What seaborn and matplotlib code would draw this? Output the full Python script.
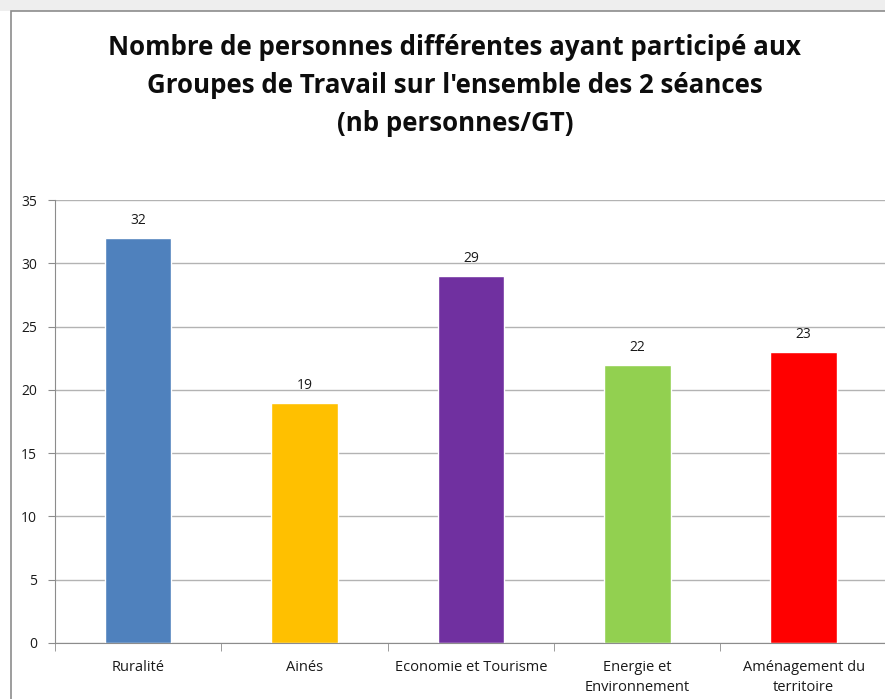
import matplotlib
matplotlib.use("Agg")
import matplotlib.pyplot as plt
import seaborn as sns
import pandas as pd
from matplotlib.patches import Rectangle

# data
groupes = ["Ruralité", "Ainés", "Economie et Tourisme",
           "Energie et\nEnvironnement", "Aménagement du\nterritoire"]
personnes = [32, 19, 29, 22, 23]
couleurs = ["#4f81bd", "#ffc000", "#7030a0", "#92d050", "#ff0000"]
y_ticks = [0, 5, 10, 15, 20, 25, 30, 35]

titre = ("Nombre de personnes différentes ayant participé aux\n"
         "Groupes de Travail sur l'ensemble des 2 séances\n"
         "(nb personnes/GT)")


def main():
    sns.set_style("white")
    plt.rcParams["font.family"] = ["Open Sans", "DejaVu Sans"]

    df = pd.DataFrame({"groupe": groupes, "nb": personnes})

    fig = plt.figure(figsize=(8.85, 6.99), dpi=100)
    fig.patch.set_facecolor("white")

    # light grey strip above the chart frame, then the frame itself
    W, H = 885, 699
    fig.patches.append(Rectangle((0, 1 - 11 / H), 1, 11 / H,
                                 transform=fig.transFigure, facecolor="#eeeeee",
                                 edgecolor="none", zorder=-11))
    fig.patches.append(Rectangle((11 / W, -0.05), 1.1, (H - 11) / H + 0.05,
                                 transform=fig.transFigure, facecolor="white",
                                 edgecolor="#8c8c8c", linewidth=1.2, zorder=-10))

    ax = fig.add_axes([55 / W, 1 - 643 / H, 1 - 55 / W + 0.002, (643 - 200) / H])
    ax.set_facecolor("none")

    sns.barplot(
        data=df,
        x="groupe",
        y="nb",
        hue="groupe",
        palette=couleurs,
        legend=False,
        width=0.4,
        saturation=1,
        ax=ax
    )

    for bar, v in zip(ax.patches, personnes):
        ax.annotate(str(v), (bar.get_x() + bar.get_width() / 2, bar.get_height()),
                    xytext=(0, 7), textcoords="offset points",
                    ha="center", va="bottom", fontsize=10, color="#1a1a1a")

    ax.set_ylim(0, 35)
    ax.set_xlim(-0.5, len(groupes) - 0.5)
    ax.set_yticks(y_ticks)
    ax.yaxis.grid(True, color="#b3b3b3", linewidth=1)
    ax.set_axisbelow(True)

    ax.set_xticks(range(len(groupes)))
    ax.set_xticklabels(groupes, fontsize=10.5, color="#1a1a1a", linespacing=1.45)
    ax.set_xticks([i - 0.5 for i in range(len(groupes) + 1)], minor=True)
    ax.tick_params(axis="x", which="major", length=0, pad=12)
    ax.tick_params(axis="x", which="minor", length=6, color="#8c8c8c",
                   direction="out", bottom=True)
    ax.tick_params(axis="y", length=5, color="#8c8c8c", direction="out",
                   left=True, labelsize=10, labelcolor="#1a1a1a", pad=8)

    ax.set_xlabel("")
    ax.set_ylabel("")
    for side in ["top", "right"]:
        ax.spines[side].set_visible(False)
    ax.spines["left"].set_color("#8c8c8c")
    ax.spines["bottom"].set_color("#8c8c8c")

    fig.text(0.514, 1 - 34 / H, titre, ha="center", va="top",
             fontsize=18.6, fontweight="bold", linespacing=1.52, color="#0d0d0d")

    plt.savefig("out.png", dpi=100)


if __name__ == "__main__":
    main()
